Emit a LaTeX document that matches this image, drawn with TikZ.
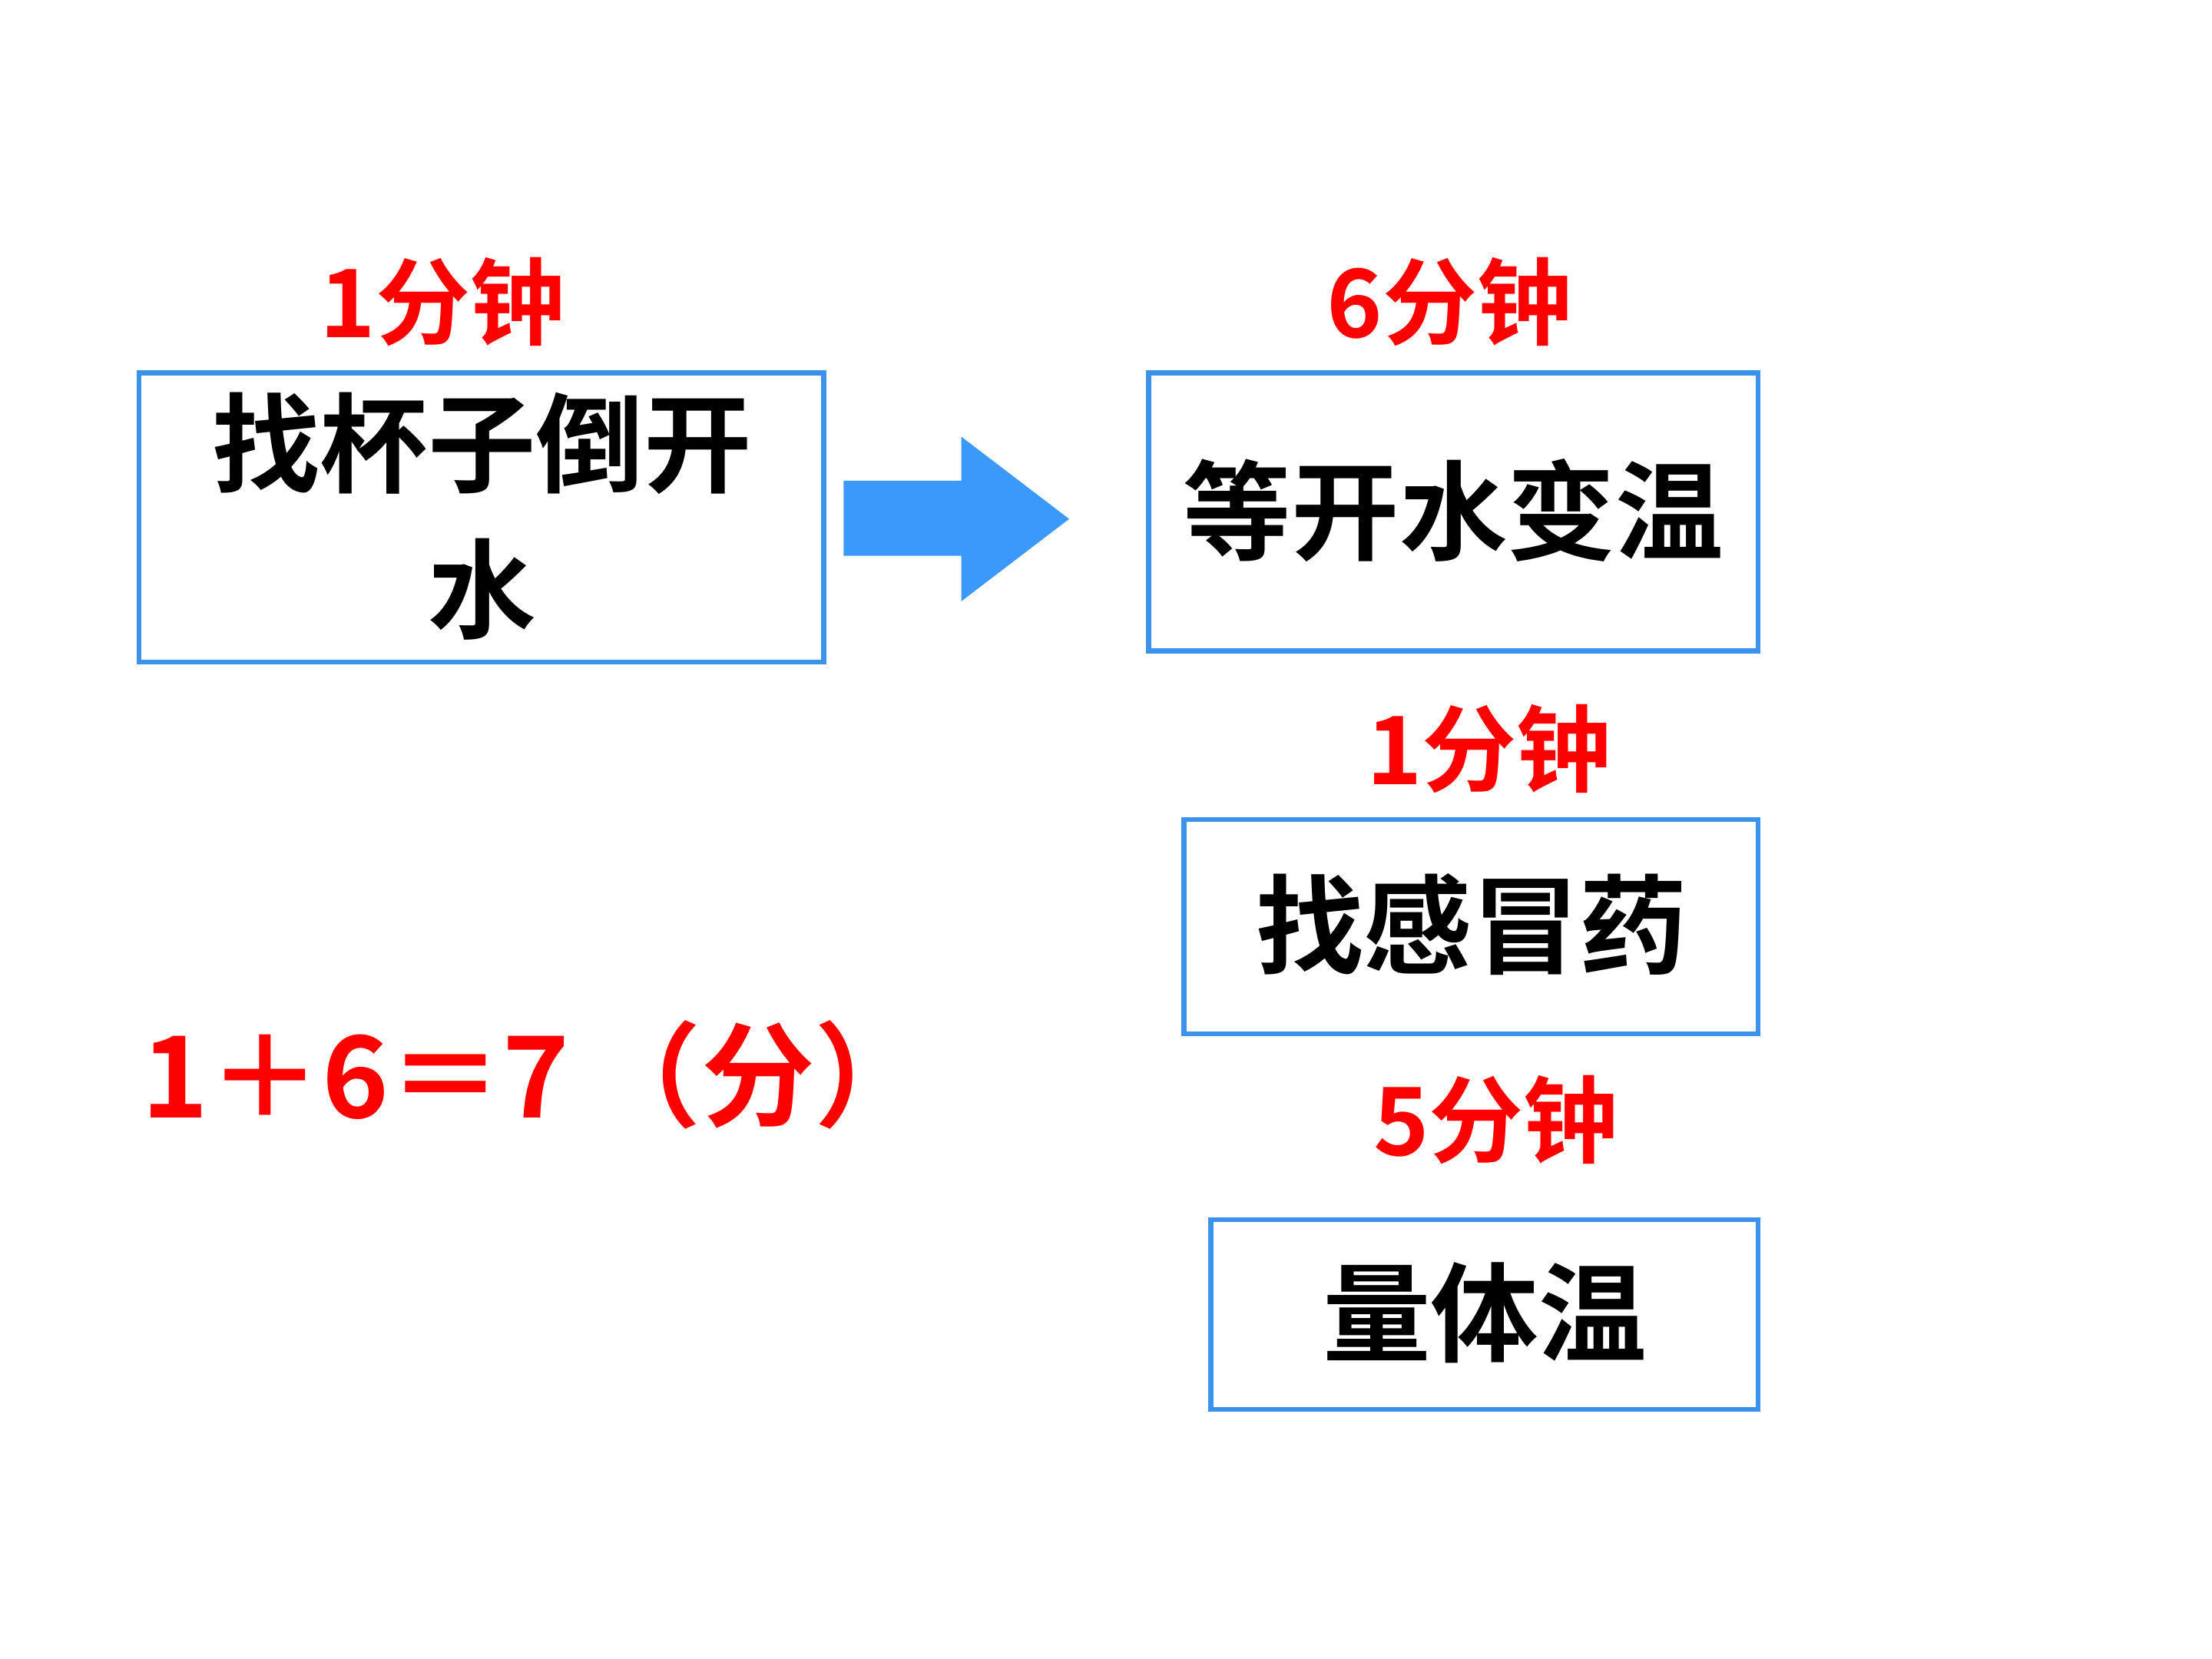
\documentclass[tikz,border=0pt]{standalone}
\usepackage{fontspec}
\setmainfont{Noto Sans CJK SC}[BoldFont={* Bold}]
\newfontfamily\cjkb{Noto Sans CJK SC Bold}
\definecolor{boxblue}{RGB}{60,145,235}
\definecolor{arrblue}{RGB}{59,153,252}
\tikzset{
 tbox/.style={draw=boxblue,line width=1.8pt},
 lbl/.style={text=red,font=\cjkb\fontsize{35}{38}\selectfont,inner sep=0pt},
 btxt/.style={font=\cjkb\fontsize{40}{54}\selectfont,inner sep=0pt,align=center}
}
\begin{document}
\begin{tikzpicture}[x=0.01846cm,y=-0.01846cm]
\useasboundingbox (0,0) rectangle (1560,1170);
\draw[tbox] (98,263) rectangle (581,467);
\node[btxt] (t1) at (340,364) {找杯子倒开\\水};
\draw[tbox] (810,263) rectangle (1240,459);
\node[btxt] (t2) at (1025,360) {等开水变温};
\draw[tbox] (835,578) rectangle (1240,729);
\node[btxt] (t3) at (1038,652) {找感冒药};
\draw[tbox] (854,860) rectangle (1240,994);
\node[btxt] (t4) at (1047,926) {量体温};
\fill[arrblue] (595,339) -- (678,339) -- (678,308) -- (754,366) -- (678,424) -- (678,392) -- (595,392) -- cycle;
\node[lbl] (l1) at (312,213) {1分钟};
\node[lbl] (l2) at (1022,213) {6分钟};
\node[lbl] (l3) at (1050,528) {1分钟};
\node[lbl] (l4) at (1055,790) {5分钟};
\node[lbl,font=\cjkb\fontsize{42}{46}\selectfont] (f) at (384,758) {1＋6＝7\,（分）\,};
\end{tikzpicture}
\end{document}
